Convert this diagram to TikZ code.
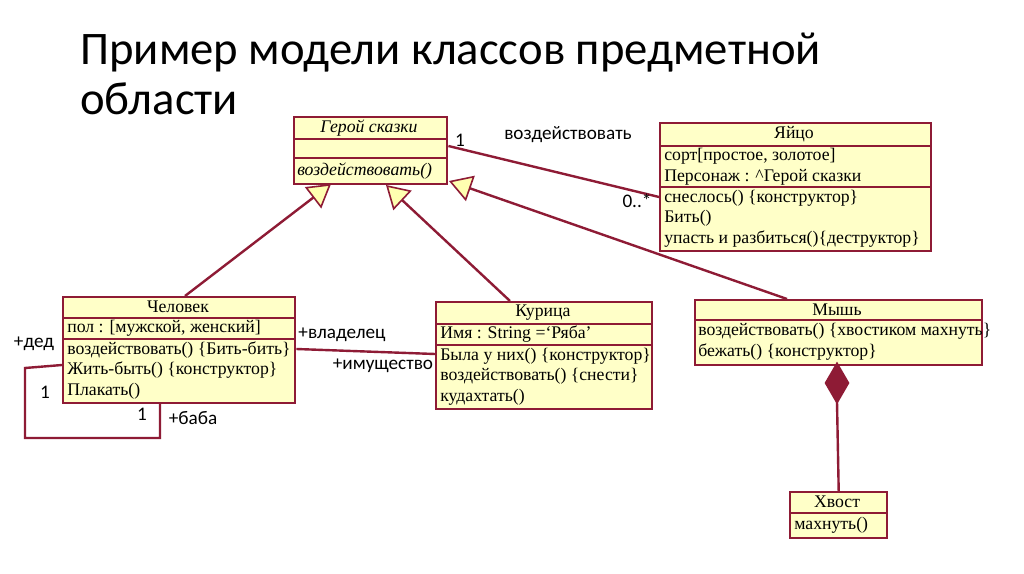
\documentclass[tikz,border=0pt]{standalone}
\usepackage{fontspec}
\setmainfont{Liberation Serif}
\newfontfamily\calfont{Carlito}
\usetikzlibrary{arrows.meta}
\definecolor{bd}{HTML}{8E1B35}
\definecolor{fl}{HTML}{FFFFC8}
\definecolor{tri}{HTML}{FFFFB0}
\begin{document}
\begin{tikzpicture}[x=0.75pt,y=-0.75pt,
  box/.style={draw=bd,line width=1.8pt,fill=fl,inner sep=0},
  sep/.style={draw=bd,line width=1.8pt},
  ln/.style={draw=bd,line width=1.8pt},
  txt/.style={font=\fontsize{13.3}{15.5}\selectfont,inner sep=0,anchor=west,align=left},
  hd/.style={font=\fontsize{13.3}{15.5}\selectfont,inner sep=0},
  lab/.style={font=\calfont\fontsize{14.4}{17}\selectfont,inner sep=0},
  gen/.style={ln,-{Triangle[open,fill=tri,length=17pt,width=20pt,line width=1.2pt]}}]
\useasboundingbox[fill=white] (0,0) rectangle (1024,574);
\node[anchor=west,align=left,inner sep=0,font=\calfont\fontsize{35}{35}\selectfont] (title) at (80,53) {Пример модели классов предметной};
\node[anchor=west,align=left,inner sep=0,font=\calfont\fontsize{35}{35}\selectfont] (title2) at (80,99) {области};
% Герой сказки
\node[box,anchor=north west,minimum width=153*0.75pt,minimum height=67*0.75pt] (g) at (293,116) {};
\draw[sep] (293,139)--(446,139) (293,158)--(446,158);
\node[hd,font=\fontsize{13.3}{15.5}\selectfont\itshape] (gh) at (369,128) {Герой сказки};
\node[txt,font=\fontsize{13.3}{15.5}\selectfont\itshape] (go) at (297,171) {воздействовать()};
% Яйцо
\node[box,anchor=north west,minimum width=271*0.75pt,minimum height=128*0.75pt] (e) at (659,122) {};
\draw[sep] (659,146)--(930,146) (659,187)--(930,187);
\node[hd] (eh) at (794,134) {Яйцо};
\node[txt] (ea) at (664,166.5) {сорт[простое, золотое]\\Персонаж : \^{}Герой сказки};
\node[txt] (eo) at (664,218.5) {снеслось() \{конструктор\}\\Бить()\\упасть и разбиться()\{деструктор\}};
% Человек
\node[box,anchor=north west,minimum width=232*0.75pt,minimum height=106*0.75pt] (h) at (62,296) {};
\draw[sep] (62,318)--(294,318) (62,339)--(294,339);
\node[hd] (hh) at (178,307) {Человек};
\node[txt] (ha) at (67,328.5) {пол : [мужской, женский]};
\node[txt] (ho) at (67,370.5) {воздействовать() \{Бить-бить\}\\Жить-быть() \{конструктор\}\\Плакать()};
% Курица
\node[box,anchor=north west,minimum width=216*0.75pt,minimum height=107*0.75pt] (k) at (435,301) {};
\draw[sep] (435,324)--(651,324) (435,345)--(651,345);
\node[hd] (kh) at (543,313) {Курица};
\node[txt] (ka) at (440,334.5) {Имя : String =‘Ряба’};
\node[txt] (ko) at (440,376.5) {Была у них() \{конструктор\}\\воздействовать() \{снести\}\\кудахтать()};
% Мышь
\node[box,anchor=north west,minimum width=287*0.75pt,minimum height=65*0.75pt] (m) at (694,299) {};
\draw[sep] (694,320)--(981,320);
\node[hd] (mh) at (837,310) {Мышь};
\node[txt] (mo) at (698,342) {воздействовать() \{хвостиком махнуть\}\\бежать() \{конструктор\}};
% Хвост
\node[box,anchor=north west,minimum width=97*0.75pt,minimum height=46*0.75pt] (t) at (789,491) {};
\draw[sep] (789,513)--(886,513);
\node[hd] (th) at (837,502) {Хвост};
\node[txt] (to) at (794,525) {махнуть()};
% association Герой–Яйцо
\draw[ln] (g.east |- 0,146) -- (e.west |- 0,197);
\node[lab] (l1) at (460,140) {1};
\node[lab] (l2) at (568,135) {воздействовать};
\node[lab] (l3) at (637,201) {0..*};
% generalizations
\draw[gen] (185,296) -- (331,184);
\draw[gen] (510,301) -- (386,185);
\draw[gen] (787,299) -- (449,181);
% Человек–Курица
\draw[ln] (h.east |- 0,349) -- (k.west |- 0,354);
\node[lab] (l4) at (342,335) {+владелец};
\node[lab] (l5) at (383,366) {+имущество};
% self loop
\coordinate (s1) at (h.west |- 0,365);
\coordinate (s2) at (160,402);
\draw[ln] (s1) -- (25,368) -- (25,438) -- (160,438) -- (s2);
\node[lab] (l6) at (34,344) {+дед};
\node[lab] (l7) at (45,392) {1};
\node[lab] (l8) at (142,414) {1};
\node[lab] (l9) at (193,418) {+баба};
% composition
\draw[ln] (t.north) -- (837,402);
\draw[ln,fill=bd] (837,364) -- (848,383) -- (837,402) -- (826,383) -- cycle;
\end{tikzpicture}
\end{document}
